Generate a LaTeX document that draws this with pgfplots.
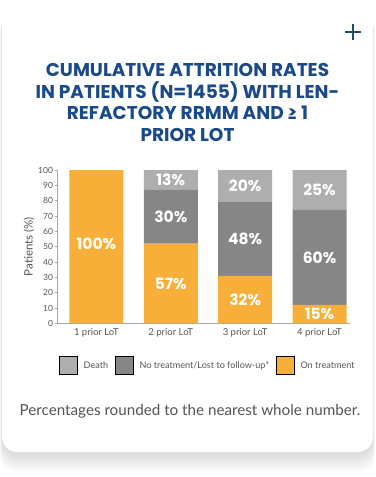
\documentclass[border=0pt]{standalone}
\usepackage{fontspec}
\setmainfont{Lato}
\newfontfamily\titlefont{Poppins}
\usepackage{pgfplots}
\pgfplotsset{compat=1.18}

\definecolor{ontr}{HTML}{F8AF3A}
\definecolor{notr}{HTML}{868686}
\definecolor{death}{HTML}{AEAEAE}
\definecolor{titleblue}{HTML}{1B4A8B}
\definecolor{plusc}{HTML}{1E4E62}
\definecolor{txt}{HTML}{555555}
\definecolor{axc}{HTML}{A8A8A8}

\pgfplotsset{
  common/.style={
    scale only axis, width=292.3bp, height=153.3bp,
    at={(57.7bp,-323.3bp)}, anchor=south west,
    xmin=-0.52, xmax=3.41, ymin=0, ymax=100,
  }
}

\begin{document}
\begin{tikzpicture}[x=1bp,y=1bp]
\useasboundingbox (0,0) rectangle (375,-477);
\fill[white] (0,0) rectangle (375,-477);
% shadow
\foreach \i in {1,...,12}{
  \fill[black, opacity=0.012, rounded corners=16bp] (2-0.15*\i,-10-0.5*\i) rectangle (373+0.15*\i,-452-1.7*\i);
}
\fill[white, rounded corners=15bp] (2,-10) rectangle (373,-452);
% plus
\draw[plusc, line width=2.2bp] (345,-32) -- (361,-32) (353,-24) -- (353,-40);
% title
\begin{scope}[every node/.style={anchor=base, text=titleblue, font=\titlefont\bfseries\fontsize{18.5bp}{20bp}\selectfont, inner sep=0}]
\node at (187.5,-76.5) {CUMULATIVE ATTRITION RATES};
\node at (187.5,-98.5) {IN PATIENTS (N=1455) WITH LEN-};
\node at (187.5,-120) {REFACTORY RRMM AND ≥ 1};
\node at (187.5,-142) {PRIOR LOT};
\end{scope}
% footnote
\node[anchor=base, text=txt, font=\fontsize{15.2bp}{17bp}\selectfont, inner sep=0] at (190,-415) {Percentages rounded to the nearest whole number.};

\begin{axis}[common,
  ybar stacked, bar width=54bp,
  axis x line*=bottom, axis y line*=left,
  axis line style={axc, line width=0.6bp},
  ytick={0,10,...,100},
  xtick={0,1,2,3},
  xticklabels={1 prior LoT, 2 prior LoT, 3 prior LoT, 4 prior LoT},
  x tick style={draw=none},
  y tick style={axc, line width=0.6bp},
  tick align=outside, major tick length=3bp,
  /pgf/number format/assume math mode=true,
  yticklabel style={font=\fontsize{8.5bp}{10bp}\selectfont, text=txt, inner sep=1.5bp},
  xticklabel style={font=\fontsize{9.5bp}{10bp}\selectfont, text=txt, inner sep=1bp, yshift=-1bp},
  ylabel={Patients (\%)},
  every axis y label/.style={at={(rel axis cs:0,0.5)}, rotate=90, anchor=center, yshift=28.7bp, font=\fontsize{11.5bp}{12bp}\selectfont, text=txt},
]
\addplot[fill=ontr, draw=none] table[x=x, y=on] {
x on
0 100
1 52
2 31
3 12
};
\addplot[fill=notr, draw=none] table[x=x, y=no] {
x no
0 0
1 35
2 48
3 62
};
\addplot[fill=death, draw=none] table[x=x, y=death] {
x death
0 0
1 13
2 21
3 26
};
\end{axis}

\begin{axis}[common, hide axis,
  legend columns=3,
  legend style={at={(0.514,-0.275)}, anchor=center, draw=none, fill=none,
    font=\fontsize{9.1bp}{11bp}\selectfont, text=txt,
    /tikz/every odd column/.append style={column sep=4bp},
    /tikz/every even column/.append style={column sep=5bp}},
  legend image code/.code={\fill[#1] (0bp,-9bp) rectangle (18bp,9bp);},
]
\addplot[draw=none, mark=none, nodes near coords, point meta=explicit symbolic,
  every node near coord/.style={anchor=center, text=white, font=\titlefont\bfseries\fontsize{15.5bp}{16bp}\selectfont}, forget plot]
coordinates {
(0,52)[100\%]
(1,26)[57\%] (1,69.5)[30\%] (1,93.5)[13\%]
(2,15.5)[32\%] (2,55)[48\%] (2,89.5)[20\%]
(3,6)[15\%] (3,43)[60\%] (3,87)[25\%]
};
\addlegendimage{fill=death}
\addlegendentry{Death}
\addlegendimage{fill=notr}
\addlegendentry{No treatment/Lost to follow-up*}
\addlegendimage{fill=ontr}
\addlegendentry{On treatment}
\end{axis}
\end{tikzpicture}
\end{document}
